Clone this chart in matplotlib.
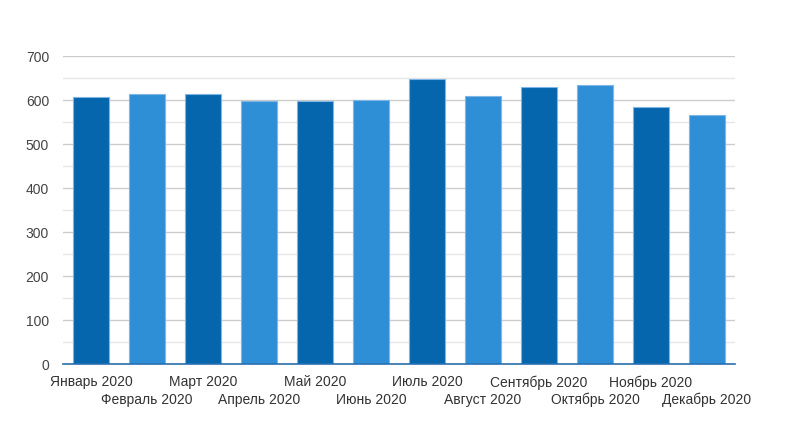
import matplotlib
matplotlib.use("Agg")
import matplotlib.pyplot as plt
import numpy as np

months = ["Январь 2020", "Февраль 2020", "Март 2020", "Апрель 2020", "Май 2020", "Июнь 2020",
          "Июль 2020", "Август 2020", "Сентябрь 2020", "Октябрь 2020", "Ноябрь 2020", "Декабрь 2020"]
values = [606, 613, 613, 598, 598, 599, 648, 608, 629, 633, 585, 567]
y_ticks = [0, 100, 200, 300, 400, 500, 600, 700]

dark = "#0565ad"
light = "#2e8ed6"

plt.rcParams['font.family'] = ['Liberation Sans', 'DejaVu Sans']

fig = plt.figure(figsize=(7.88, 4.39), dpi=100)
ax = fig.add_axes([63/788, 74/439, 672/788, 308/439])

x = np.arange(len(months))
colors = [dark if i % 2 == 0 else light for i in range(len(months))]
ax.bar(x, values, width=0.64, color=colors, edgecolor="#7fb6e6", linewidth=0.8, zorder=3)

ax.set_xlim(-0.5, len(months) - 0.5)
ax.set_ylim(0, 700)
ax.set_yticks(y_ticks)
ax.set_yticks(np.arange(50, 700, 100), minor=True)
ax.grid(axis='y', which='major', color="#cccccc", linewidth=1, zorder=0)
ax.grid(axis='y', which='minor', color="#e6e6e6", linewidth=1, zorder=0)
ax.tick_params(axis='y', which='both', length=0, labelsize=10, labelcolor="#444444", pad=10)
ax.tick_params(axis='x', length=0)
for s in ['top', 'right', 'left']:
    ax.spines[s].set_visible(False)
ax.spines['bottom'].set_color("#2a6fb0")
ax.spines['bottom'].set_linewidth(1.2)
ax.spines['bottom'].set_zorder(4)

ax.set_xticks(x)
ax.set_xticklabels([])
for i, m in enumerate(months):
    yoff = -17.5 if i % 2 == 0 else -35
    ax.annotate(m, xy=(i, 0), xycoords=('data', 'data'), xytext=(0, yoff), textcoords='offset pixels',
                ha='center', va='center', fontsize=10, color="#333333")

fig.savefig("out.png", dpi=100, facecolor="white")
